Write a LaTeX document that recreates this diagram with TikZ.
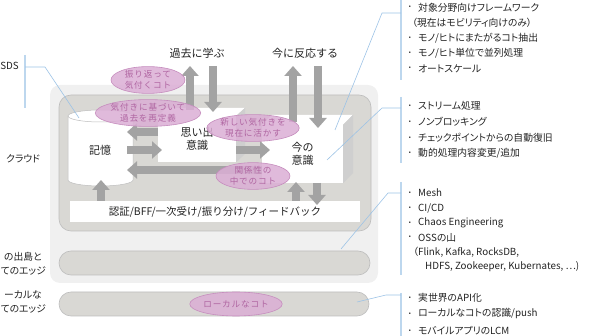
\documentclass[tikz,border=0pt]{standalone}
\usepackage{fontspec}
\setmainfont{Noto Sans CJK JP}
\newfontfamily\propfont[RawFeature=+palt]{Noto Sans CJK JP}
\usetikzlibrary{arrows.meta,shapes.geometric}
\definecolor{lightbg}{HTML}{F0F0F0}
\definecolor{cloudbg}{HTML}{D9D8D4}
\definecolor{bandborder}{HTML}{BDBDBD}
\definecolor{arrowgray}{HTML}{A3A3A3}
\definecolor{pinkfill}{HTML}{DBAED5}
\definecolor{pinkdraw}{HTML}{C68DBE}
\definecolor{pinktext}{HTML}{B066A2}
\definecolor{bracketblue}{HTML}{BDD7EE}
\definecolor{lineblue}{HTML}{9DC3E6}
\definecolor{sidegray}{HTML}{CFCFCF}
\definecolor{txt}{HTML}{222222}
\begin{document}
\begin{tikzpicture}[x=1pt,y=-1pt,
  band/.style={fill=cloudbg,draw=bandborder,line width=0.6pt,rounded corners=12pt},
  barrow/.style={draw=arrowgray,line width=8pt,-{Triangle[width=17pt,length=10pt]}},
  koto/.style={ellipse,fill=pinkfill,draw=pinkdraw,line width=0.6pt,fill opacity=0.85,text opacity=1,text=pinktext,
     font={\fontsize{8.6}{11}\selectfont\addfontfeatures{LetterSpace=10}},align=center,minimum width=74pt,minimum height=25pt,inner sep=0pt},
  facebox/.style={fill=white,draw=none,inner sep=0pt,align=center,text=txt,font=\fontsize{11}{12.5}\selectfont},
  bigtxt/.style={text=txt,font=\fontsize{11}{13}\selectfont,inner sep=0pt},
  sidetxt/.style={text=txt,font=\propfont\fontsize{9.8}{11}\selectfont,inner sep=0pt},
  listtxt/.style={text=txt,font=\propfont\fontsize{9.8}{11}\selectfont,inner sep=0pt,anchor=west},
  bul/.style={text=txt,font=\fontsize{6}{7}\selectfont,inner sep=0pt},
  bracket/.style={draw=bracketblue,line width=1.6pt},
  conn/.style={draw=lineblue,line width=0.6pt}]
\useasboundingbox (0,0) rectangle (608,336);
% containers
\fill[lightbg,rounded corners=10pt] (50,85) rectangle (378,283);
\draw[band] (59,95) rectangle (371,231);
\draw[band] (59,251) rectangle (370,275);
\draw[band] (59,292) rectangle (369,316);
\node[fill=white,minimum width=290pt,minimum height=21pt,inner sep=0pt,text=txt,font=\fontsize{10.5}{12}\selectfont] (auth) at (215,212) {認証/BFF/一次受け/振り分け/フィードバック};
% cylinder
\filldraw[fill=white,draw=bandborder,line width=0.5pt] (68,116) -- (68,180) arc[start angle=180,end angle=360,x radius=32.5pt,y radius=6pt] -- (133,116) arc[start angle=0,end angle=180,x radius=32.5pt,y radius=6pt] -- cycle;
\draw[bandborder,line width=0.5pt] (68,116) arc[start angle=180,end angle=360,x radius=32.5pt,y radius=6pt];
\node[bigtxt] (kioku) at (100,150) {記憶};
% omoide box
\node[facebox,minimum width=78pt,minimum height=46pt] (omoide) at (197,139) {思い出\\意識};
\fill[white] (omoide.north west) -- ++(9,-8) -- ++(78,0) -- (omoide.north east) -- cycle;
\fill[sidegray] (omoide.north east) -- ++(9,-8) -- ++(0,46) -- (omoide.south east) -- cycle;
% now box
\node[facebox,minimum width=81pt,minimum height=58pt] (ima) at (302.5,154) {今の\\意識};
\fill[white] (ima.north west) -- ++(10,-10) -- ++(81,0) -- (ima.north east) -- cycle;
\fill[sidegray] (ima.north east) -- ++(10,-10) -- ++(0,58) -- (ima.south east) -- cycle;
% arrows
\coordinate (a1s) at (190,110); \coordinate (a1e) at (190,66);
\coordinate (a2s) at (213,66);  \coordinate (a2e) at (213,112);
\coordinate (a3s) at (293,122); \coordinate (a3e) at (293,66);
\coordinate (a4s) at (318,66);  \coordinate (a4e) at (318,128);
\coordinate (a5s) at (158,132); \coordinate (a5e) at (127,132);
\coordinate (a6s) at (127,150); \coordinate (a6e) at (162,150);
\coordinate (a7s) at (262,170); \coordinate (a7e) at (127,170);
\coordinate (a8s) at (236,150); \coordinate (a8e) at (270,150);
\coordinate (a9s) at (101,201); \coordinate (a9e) at (101,180);
\coordinate (a10s) at (296,201); \coordinate (a10e) at (296,182);
\coordinate (a11s) at (317,183); \coordinate (a11e) at (317,205);
\foreach \i in {1,...,11} {\draw[barrow] (a\i s) -- (a\i e);}
% top labels
\node[bigtxt] (past) at (197,53) {過去に学ぶ};
\node[bigtxt] (now) at (305,53) {今に反応する};
% pink ellipses
\node[koto] (k1) at (148,80) {振り返って\\気付くコト};
\node[koto] (k2) at (148,113) {気付きに基づいて\\過去を再定義};
\node[koto] (k3) at (253,128) {新しい気付きを\\現在に活かす};
\node[koto] (k4) at (253,176) {関係性の\\中でのコト};
\node[koto,minimum height=24pt] (k5) at (236,304) {ローカルなコト};
% left labels
\node[sidetxt,anchor=east] (sds) at (19,66) {SDS};
\node[sidetxt,anchor=west] (cloud) at (6,159) {クラウド};
\node[sidetxt,anchor=east] (edge1) at (42,257) {の出島と};
\node[sidetxt,anchor=west] (edge2) at (0.5,271) {てのエッジ};
\node[sidetxt,anchor=east] (loc1) at (42,295) {ーカルな};
\node[sidetxt,anchor=west] (loc2) at (0.5,309) {てのエッジ};
% SDS bracket
\coordinate (sdsT) at (25,55); \coordinate (sdsB) at (25,108);
\draw[bracket] (sdsT) -- (sdsB);
\coordinate (sdsC) at (25,67); \coordinate (sdsP) at (79,118);
\draw[conn] (sdsC) -- (45,67) -- (sdsP);
% right brackets
\coordinate (b1T) at (401,0); \coordinate (b1B) at (401,80);
\coordinate (b2T) at (401,97); \coordinate (b2B) at (401,163);
\coordinate (b3T) at (401,182); \coordinate (b3B) at (401,275);
\coordinate (b4T) at (401,293); \coordinate (b4B) at (401,336);
\foreach \i in {1,...,4} {\draw[bracket] (b\i T) -- (b\i B);}
\coordinate (c1) at (401,13); \coordinate (p1) at (335,130);
\coordinate (c2) at (401,108); \coordinate (p2) at (327,160);
\coordinate (c3) at (401,193); \coordinate (p3) at (341,249);
\coordinate (c4) at (401,295); \coordinate (p4) at (357,302);
\draw[conn] (c1) -- (382,13) -- (p1);
\draw[conn] (c2) -- (382,108) -- (p2);
\draw[conn] (c3) -- (388,193) -- (p3);
\draw[conn] (c4) -- (386,295) -- (p4);
% lists
\node[bul] (u1) at (410,7.5) {•};   \node[listtxt] (l1) at (418,7.5) {対象分野向けフレームワーク};
\node[listtxt] (l2) at (412,22.8) {（現在はモビリティ向けのみ）};
\node[bul] (u3) at (410,38.1) {•};  \node[listtxt] (l3) at (418,38.1) {モノ/ヒトにまたがるコト抽出};
\node[bul] (u4) at (410,53.4) {•};  \node[listtxt] (l4) at (418,53.4) {モノ/ヒト単位で並列処理};
\node[bul] (u5) at (410,68.7) {•};  \node[listtxt] (l5) at (418,68.7) {オートスケール};
\node[bul] (v1) at (410,106) {•};   \node[listtxt] (m1) at (418,106) {ストリーム処理};
\node[bul] (v2) at (410,122) {•};   \node[listtxt] (m2) at (418,122) {ノンブロッキング};
\node[bul] (v3) at (410,138) {•};   \node[listtxt] (m3) at (418,138) {チェックポイントからの自動復旧};
\node[bul] (v4) at (410,153.5) {•}; \node[listtxt] (m4) at (418,153.5) {動的処理内容変更/追加};
\node[bul] (w1) at (410,193) {•};   \node[listtxt] (n1) at (418,193) {Mesh};
\node[bul] (w2) at (410,208) {•};   \node[listtxt] (n2) at (418,208) {CI/CD};
\node[bul] (w3) at (410,223) {•};   \node[listtxt] (n3) at (418,223) {Chaos Engineering};
\node[bul] (w4) at (410,237.5) {•}; \node[listtxt] (n4) at (418,237.5) {OSSの山};
\node[listtxt] (n5) at (413,252) {（Flink, Kafka, RocksDB,};
\node[listtxt] (n6) at (425,266.5) {HDFS, Zookeeper, Kubernates, …)};
\node[bul] (x1) at (410,298) {•};   \node[listtxt] (o1) at (418,298) {実世界のAPI化};
\node[bul] (x2) at (410,314) {•};   \node[listtxt] (o2) at (418,314) {ローカルなコトの認識/push};
\node[bul] (x3) at (410,331) {•};   \node[listtxt] (o3) at (418,331) {モバイルアプリのLCM};
\end{tikzpicture}
\end{document}
